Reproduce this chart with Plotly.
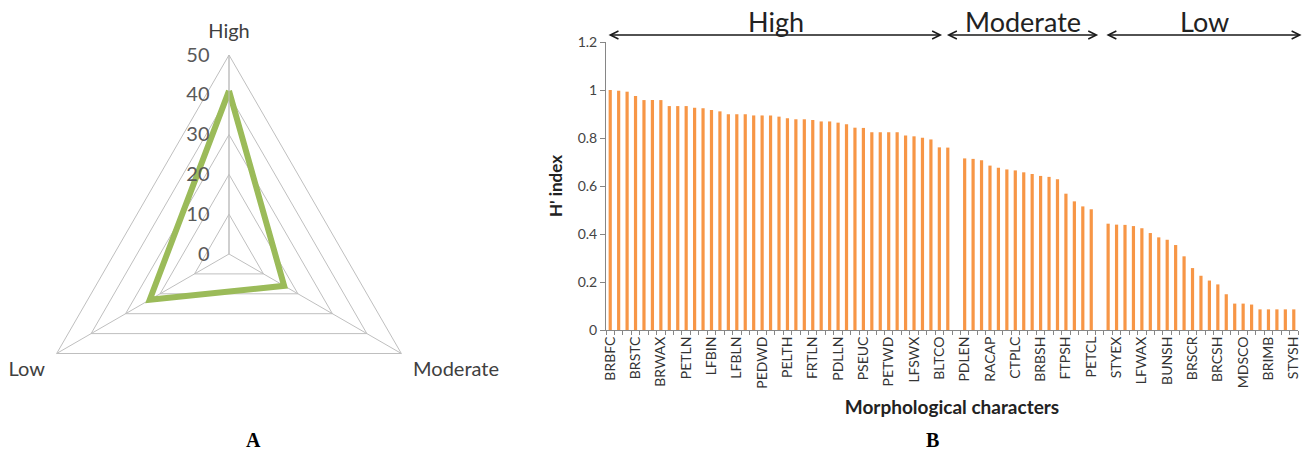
import plotly.graph_objects as go

# ---------------- data ----------------
# Panel A: number of characters per diversity class
radar_classes = ["High", "Moderate", "Low"]
radar_counts = [41, 16, 23]
radar_ticks = [0, 10, 20, 30, 40, 50]

# Panel B: H' index per morphological character (sorted), one list per class
high_vals = [1.0, 0.997, 0.993, 0.975, 0.958, 0.958, 0.958, 0.933, 0.933, 0.933,
             0.926, 0.924, 0.917, 0.911, 0.899, 0.899, 0.899, 0.894, 0.894, 0.894,
             0.889, 0.882, 0.878, 0.878, 0.875, 0.869, 0.869, 0.864, 0.857, 0.843,
             0.842, 0.824, 0.824, 0.824, 0.824, 0.810, 0.807, 0.801, 0.794, 0.761,
             0.760]
moderate_vals = [0.715, 0.713, 0.707, 0.685, 0.676, 0.669, 0.665, 0.657, 0.650, 0.642,
                 0.638, 0.628, 0.568, 0.536, 0.515, 0.503]
low_vals = [0.443, 0.439, 0.438, 0.433, 0.424, 0.404, 0.386, 0.376, 0.354, 0.307,
            0.258, 0.226, 0.206, 0.190, 0.149, 0.110, 0.110, 0.106, 0.086, 0.086,
            0.086, 0.086, 0.086]
# labels shown on every third category
tick_labels = ["BRBFC", "BRSTC", "BRWAX", "PETLN", "LFBIN", "LFBLN", "PEDWD", "PELTH",
               "FRTLN", "PDLLN", "PSEUC", "PETWD", "LFSWX", "BLTCO",
               "PDLEN", "RACAP", "CTPLC", "BRBSH", "FTPSH", "PETCL",
               "STYEX", "LFWAX", "BUNSH", "BRSCR", "BRCSH", "MDSCO", "BRIMB", "STYSH"]
group_names = ["High", "Moderate", "Low"]

# ---------------- build ----------------
values = high_vals + [None] + moderate_vals + [None] + low_vals
xs = list(range(len(values)))
tick_pos = xs[::3]

W, H = 1311, 455
ORANGE = "#F79646"
GREEN = "#9BBB59"
GRID = "#BFBFBF"
AX = "#868686"
FONT = "Lato"

fig = go.Figure()

fig.add_trace(go.Scatterpolar(
    r=radar_counts + radar_counts[:1],
    theta=radar_classes + radar_classes[:1],
    mode="lines",
    line=dict(color=GREEN, width=6),
    showlegend=False,
    hoverinfo="skip",
))

fig.add_trace(go.Bar(
    x=xs, y=values, width=0.38,
    marker=dict(color=ORANGE, line=dict(width=0)),
    showlegend=False,
))

# group spans in category units for the double arrows
n_high, n_mod = len(high_vals), len(moderate_vals)
spans = [(-0.2, n_high - 1.5),
         (n_high - 1.1, n_high + 1 + n_mod),
         (n_high + n_mod + 1.8, len(values) + 0.1)]

annotations = []
for name, (a, b) in zip(group_names, spans):
    annotations.append(dict(
        x=a, xref="x", y=1 - 35 / H, yref="paper",
        ax=b, axref="x", ay=0, ayref="pixel",
        text="", showarrow=True, arrowhead=5, startarrowhead=5,
        arrowside="end+start", arrowwidth=1.6, arrowsize=1.0, startarrowsize=1.0,
        arrowcolor="#1a1a1a", standoff=0, startstandoff=0,
    ))
    annotations.append(dict(
        x=(a + b) / 2, xref="x", y=1 - 21 / H, yref="paper",
        text=name, showarrow=False, xanchor="center", yanchor="middle",
        font=dict(family=FONT, size=27, color="#222222"),
    ))

for lbl, px in (("A", 253), ("B", 932)):
    annotations.append(dict(x=px / W, y=1 - 440 / H, xref="paper", yref="paper",
                            text=f"<b>{lbl}</b>", showarrow=False,
                            xanchor="center", yanchor="middle",
                            font=dict(family="Liberation Serif", size=20, color="black")))

fig.update_layout(
    width=W, height=H,
    margin=dict(l=0, r=0, t=0, b=0, autoexpand=False),
    paper_bgcolor="white", plot_bgcolor="white",
    font=dict(family=FONT, color="#333333"),
    polar=dict(
        domain=dict(x=[30 / W, 428 / W], y=[1 - 453 / H, 1 - 55 / H]),
        gridshape="linear",
        bgcolor="white",
        angularaxis=dict(
            rotation=90, direction="clockwise",
            showline=True, linecolor=GRID, linewidth=1,
            gridcolor=GRID, gridwidth=1,
            ticks="outside", ticklen=9, tickcolor="rgba(0,0,0,0)",
            tickfont=dict(family=FONT, size=20, color="#404040"),
        ),
        radialaxis=dict(
            range=[0, 50], tickvals=radar_ticks, angle=90, tickangle=90,
            side="counterclockwise",
            showline=True, linecolor=GRID, linewidth=1,
            gridcolor=GRID, gridwidth=1,
            ticks="outside", ticklen=12, tickcolor="rgba(0,0,0,0)",
            tickfont=dict(family=FONT, size=20, color="#595959"),
        ),
    ),
    xaxis=dict(
        domain=[606 / W, 1298 / W], range=[-0.5, len(values) - 0.5],
        tickvals=tick_pos, ticktext=tick_labels, tickangle=-90,
        ticks="", showgrid=False, zeroline=False, automargin=False,
        showline=True, linecolor=AX, linewidth=1,
        tickfont=dict(family=FONT, size=14, color="#333333"),
        minor=dict(tick0=-0.5, dtick=1, ticks="outside", ticklen=4,
                   tickcolor=AX, showgrid=False),
        title=dict(text="<b>Morphological characters</b>", standoff=12,
                   font=dict(family=FONT, size=19, color="#222222")),
    ),
    yaxis=dict(
        domain=[1 - 330 / H, 1 - 42 / H], range=[0, 1.2], dtick=0.2,
        ticks="outside", ticklen=5, tickcolor=AX, automargin=False,
        showline=True, linecolor=AX, linewidth=1,
        showgrid=False, zeroline=False,
        tickfont=dict(family=FONT, size=14, color="#444444"),
        title=dict(text="<b>H' index</b>", standoff=10,
                   font=dict(family=FONT, size=17, color="#222222")),
    ),
    annotations=annotations,
)

fig.write_html("out.html",
               config={"displayModeBar": False},
               post_script="document.body.style.margin='0';document.body.style.overflow='hidden';")
